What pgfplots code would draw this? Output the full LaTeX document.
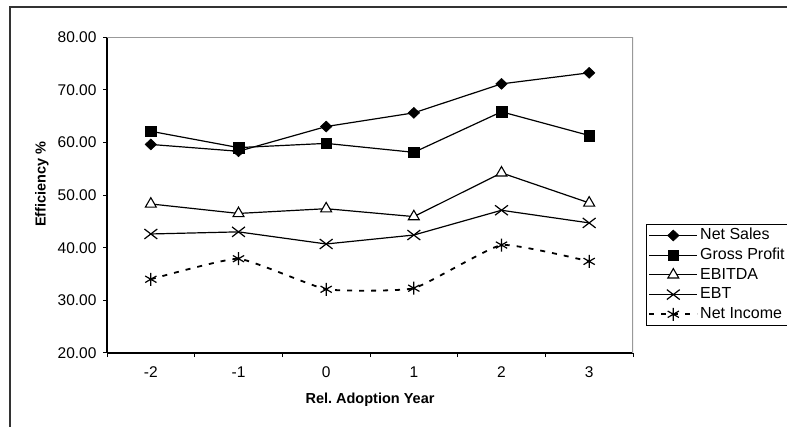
\documentclass[border=0pt]{standalone}
\usepackage{fontspec}
\setmainfont{Liberation Sans}
\usepackage{pgfplots}
\pgfplotsset{compat=1.18}
\begin{document}
\frenchspacing
\begin{tikzpicture}
\useasboundingbox (0pt,0pt) rectangle (787pt,-427pt);
\fill[white] (0pt,0pt) rectangle (787pt,-427pt);
% outer chart frame
\draw[line width=1.1pt, black!80] (10pt,-427pt) -- (10pt,-7pt) -- (787pt,-7pt);
\begin{axis}[
    at={(107pt,-353pt)}, anchor=south west,
    scale only axis, width=526pt, height=316pt,
    xmin=-2.5, xmax=3.5, ymin=20, ymax=80,
    axis x line*=bottom, axis y line*=left,
    axis line style={line width=1.1pt, black},
    xtick={-2.5,-1.5,...,3.5},
    x tick label as interval,
    xticklabels={-2,-1,0,1,2,3},
    ytick={20,30,...,80},
    tick align=outside,
    major tick length=4pt,
    tick style={line width=1pt, black},
    ticklabel style={font=\fontsize{15.5}{18}\selectfont},
    x tick label style={yshift=-6pt},
    y tick label style={xshift=-3pt, /pgf/number format/.cd, fixed, fixed zerofill, precision=2, assume math mode=true},
    xlabel={Rel. Adoption Year},
    ylabel={Efficiency \%},
    label style={font=\bfseries\fontsize{14.5}{17}\selectfont},
    xlabel style={at={(axis description cs:0.5,-0.147)}, anchor=center},
    ylabel style={at={(axis description cs:-0.1236,0.534)}, anchor=center},
    legend style={at={(axis description cs:1.0255,0.4078)}, anchor=north west,
        draw=black, line width=1pt, inner xsep=1.5pt, inner ysep=1pt,
        font=\fontsize{16}{18}\selectfont, cells={anchor=west}, row sep=0pt,
        nodes={inner ysep=2.6pt, text height=11.5pt, text depth=3pt}},
    legend image code/.code={\draw[mark repeat=2,mark phase=2,#1] plot coordinates {(0pt,0pt) (24pt,0pt) (48pt,0pt)};},
]
\addplot[black, line width=1.2pt, mark=diamond*, mark size=5.5pt, mark options={xscale=1.4, line width=0.5pt}]
    coordinates {(-2,59.6)(-1,58.3)(0,63.0)(1,65.6)(2,71.1)(3,73.2)};
\addlegendentry{Net Sales}
\addplot[black, line width=1.2pt, mark=square*, mark size=5.3pt, mark options={line width=0.5pt}]
    coordinates {(-2,62.1)(-1,59.0)(0,59.8)(1,58.1)(2,65.8)(3,61.3)};
\addlegendentry{Gross Profit}
\addplot[black, line width=1.2pt, mark=triangle*, mark size=6.3pt, mark options={fill=white, line width=1.1pt}]
    coordinates {(-2,48.3)(-1,46.5)(0,47.4)(1,45.9)(2,54.2)(3,48.5)};
\addlegendentry{EBITDA}
\addplot[black, line width=1.2pt, mark=x, mark size=7pt, mark options={xscale=1.3}]
    coordinates {(-2,42.6)(-1,43.0)(0,40.7)(1,42.4)(2,47.1)(3,44.7)};
\addlegendentry{EBT}
\addplot[black, line width=1.8pt, dash pattern=on 5pt off 7pt, smooth, tension=0.25, mark=asterisk, mark size=6.5pt, mark options={solid, line width=1.2pt}]
    coordinates {(-2,34.0)(-1,37.9)(0,32.1)(1,32.3)(2,40.5)(3,37.4)};
\addlegendentry{Net Income}
% plot area border, top and right
\draw[line width=1.1pt, black!40] (rel axis cs:0,1) -- (rel axis cs:1,1) -- (rel axis cs:1,0);
\end{axis}
\end{tikzpicture}
\end{document}
